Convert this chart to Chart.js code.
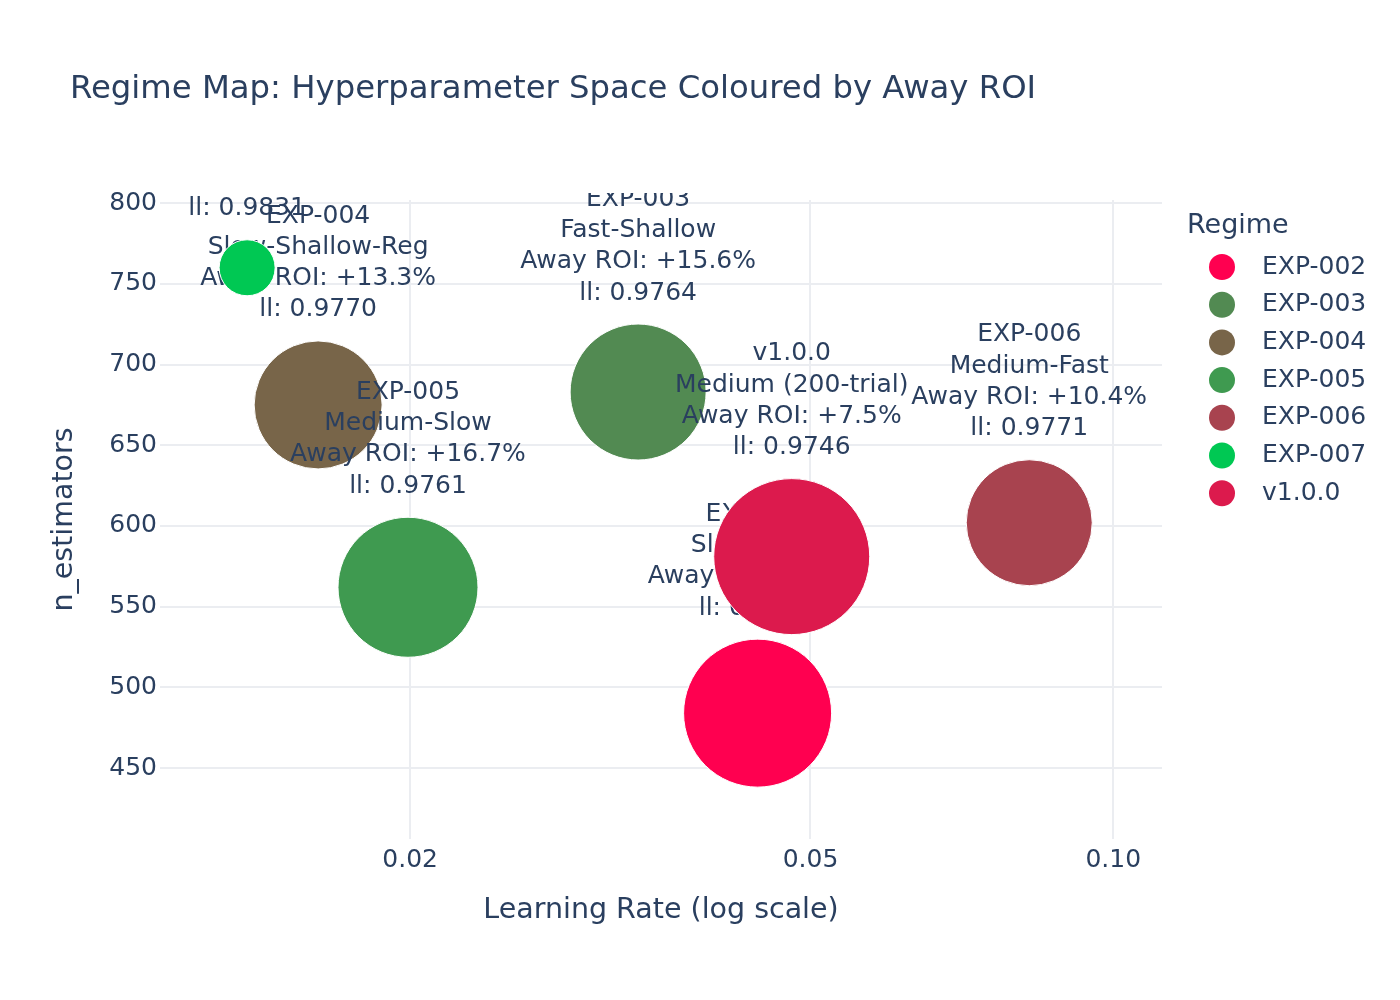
<!DOCTYPE html>
<html>
<head>
<meta charset="utf-8">
<title>Regime Map</title>
<script src="https://cdn.jsdelivr.net/npm/chart.js@4.4.1/dist/chart.umd.min.js"></script>
<style>
  html, body { margin: 0; padding: 0; background: #fff; }
  canvas { display: block; }
</style>
</head>
<body>
<canvas id="chart" width="1400" height="1000"></canvas>
<script>
// values
const regimes = ['EXP-002', 'EXP-003', 'EXP-004', 'EXP-005', 'EXP-006', 'EXP-007', 'v1.0.0'];
const regimeNames = ['Slow-Deep', 'Fast-Shallow', 'Slow-Shallow-Reg', 'Medium-Slow', 'Medium-Fast', 'Slow-Conservative', 'Medium (200-trial)'];
const learningRates = [0.0443, 0.0337, 0.0162, 0.0199, 0.0825, 0.01377, 0.0479];
const nEstimators = [484, 683, 675, 562, 602, 760, 581];
const awayRoi = ['+9.8%', '+15.6%', '+13.3%', '+16.7%', '+10.4%', '+3.2%', '+7.5%'];
const logLoss = ['0.9752', '0.9764', '0.9770', '0.9761', '0.9771', '0.9831', '0.9746'];
const markerSizes = [74, 68, 64, 70, 63, 28, 78];

const xTickValues = [0.02, 0.05, 0.1];
const xTickLabels = ['0.02', '0.05', '0.10'];
const yTickValues = [450, 500, 550, 600, 650, 700, 750, 800];

const regimeColours = ['#ff0050', '#528a52', '#786549', '#3f9a50', '#a8434f', '#00c853', '#dc1a4d'];

const FONT = "'DejaVu Sans', Verdana, sans-serif";
const INK = '#2a3f5f';
const LINE_STEP = 31.3;

const pointLabels = {
  id: 'pointLabels',
  afterDatasetDraw(chart, args) {
    const { ctx, chartArea } = chart;
    const i = args.index;
    const el = args.meta.data[0];
    if (!el) return;
    const lines = [regimes[i], regimeNames[i], `Away ROI: ${awayRoi[i]}`, `ll: ${logLoss[i]}`];
    const last = el.y - markerSizes[i] - 31;
    ctx.save();
    ctx.beginPath();
    ctx.rect(chartArea.left, chartArea.top - 7, chartArea.right - chartArea.left, chartArea.bottom - chartArea.top + 7);
    ctx.clip();
    ctx.font = `25px ${FONT}`;
    ctx.fillStyle = INK;
    ctx.textAlign = 'center';
    ctx.textBaseline = 'middle';
    lines.forEach((line, k) => {
      ctx.fillText(line, el.x, last - (lines.length - 1 - k) * LINE_STEP);
    });
    ctx.restore();
  },
};

const decorations = {
  id: 'decorations',
  afterDraw(chart) {
    const { ctx, chartArea } = chart;
    ctx.save();
    ctx.fillStyle = INK;
    ctx.textBaseline = 'middle';

    // title
    ctx.font = `32.3px ${FONT}`;
    ctx.textAlign = 'left';
    ctx.fillText('Regime Map: Hyperparameter Space Coloured by Away ROI', 70, 90);

    // axis titles
    ctx.font = `28.5px ${FONT}`;
    ctx.textAlign = 'center';
    ctx.fillText('Learning Rate (log scale)', (chartArea.left + chartArea.right) / 2, 911);
    ctx.save();
    ctx.translate(65, (chartArea.top + chartArea.bottom) / 2);
    ctx.rotate(-Math.PI / 2);
    ctx.fillText('n_estimators', 0, 0);
    ctx.restore();

    // legend
    ctx.textAlign = 'left';
    ctx.font = `27px ${FONT}`;
    ctx.fillText('Regime', 1187, 226);
    ctx.font = `25px ${FONT}`;
    regimes.forEach((name, i) => {
      const cy = 267 + i * 37.7;
      ctx.beginPath();
      ctx.arc(1222, cy, 13, 0, Math.PI * 2);
      ctx.fillStyle = regimeColours[i];
      ctx.fill();
      ctx.fillStyle = INK;
      ctx.fillText(name, 1262, cy);
    });
    ctx.restore();
  },
};

const gridStyle = { color: '#ebedf1', lineWidth: 2, drawTicks: false };

// eslint-disable-next-line no-undef
const chart = new Chart(document.getElementById('chart'), {
  type: 'bubble',
  data: {
    datasets: regimes.map((name, i) => ({
      label: name,
      data: [{ x: learningRates[i], y: nEstimators[i], r: markerSizes[i] }],
      backgroundColor: regimeColours[i],
      borderColor: '#ffffff',
      borderWidth: 1,
      hoverRadius: 0,
      // later regimes are painted on top, as in the reference
      order: regimes.length - i,
    })),
  },
  options: {
    responsive: false,
    animation: false,
    events: [],
    layout: {
      padding: {
        left: 60, right: 238, top: 200, bottom: 61,
      },
    },
    plugins: {
      legend: { display: false },
      title: { display: false },
      tooltip: { enabled: false },
    },
    scales: {
      x: {
        type: 'logarithmic',
        min: 0.01128,
        max: 0.1118,
        grid: gridStyle,
        border: { display: false },
        afterBuildTicks: (scale) => {
          scale.ticks = xTickValues.map((value) => ({ value }));
        },
        afterFit: (scale) => {
          scale.height = 100;
        },
        ticks: {
          padding: 6,
          maxRotation: 0,
          autoSkip: false,
          color: INK,
          font: { family: FONT, size: 25 },
          callback: (value, index) => xTickLabels[index],
        },
      },
      y: {
        type: 'linear',
        min: 406,
        max: 802,
        grid: gridStyle,
        border: { display: false },
        afterBuildTicks: (scale) => {
          scale.ticks = yTickValues.map((value) => ({ value }));
        },
        afterFit: (scale) => {
          scale.width = 100;
        },
        ticks: {
          padding: 3,
          color: INK,
          font: { family: FONT, size: 25 },
          callback: (value) => String(value),
        },
      },
    },
  },
  plugins: [pointLabels, decorations],
});
</script>
</body>
</html>
